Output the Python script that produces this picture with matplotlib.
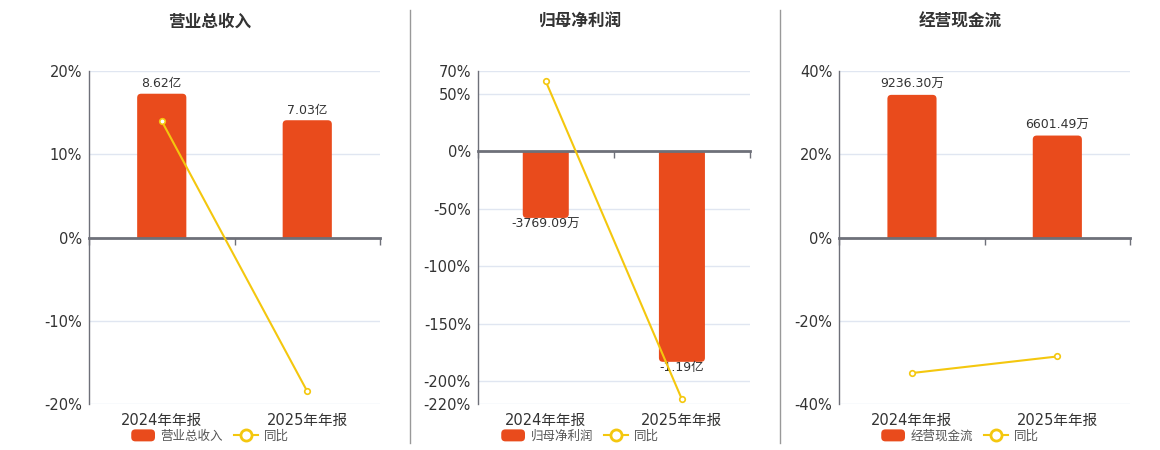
import numpy as np
import matplotlib
matplotlib.use("Agg")
from matplotlib import pyplot as plt
from matplotlib.patches import FancyBboxPatch, Rectangle, Patch
from matplotlib.lines import Line2D
from matplotlib.legend_handler import HandlerPatch

####################################################

# data

periods = ["2024年年报", "2025年年报"]

titles = ["营业总收入", "归母净利润", "经营现金流"]

revenue = [8.62, 7.03]            # 亿
revenue_labels = ["8.62亿", "7.03亿"]
revenue_yoy = [13.96, -18.45]     # %

profit = [-3769.09, -11900.0]     # 万
profit_labels = ["-3769.09万", "-1.19亿"]
profit_yoy = [60.8, -215.7]

cashflow = [9236.30, 6601.49]     # 万
cashflow_labels = ["9236.30万", "6601.49万"]
cashflow_yoy = [-32.5, -28.53]

pct_ticks = [[-20, -10, 0, 10, 20],
             [-220, -200, -150, -100, -50, 0, 50, 70],
             [-40, -20, 0, 20, 40]]

# hidden scale for the bars (keeps 0 aligned with the % axis)
bar_lims = [(-10, 10), (-14300, 4550), (-10800, 10800)]

####################################################

W, H = 1160, 450
BAR_C = "#E94B1C"
LINE_C = "#F4C70E"
GRID_C = "#E0E6F1"
AXIS_C = "#6E7079"
TXT_C = "#333333"

plt.rcParams['font.family'] = ['DejaVu Sans', 'Noto Sans CJK SC']

fig = plt.figure(figsize=(W / 100, H / 100), dpi=100)

# axes boxes in pixels: left, right ; top/bottom shared
boxes = [(89, 380), (477.7, 750), (839.3, 1130)]
top_px, bot_px = 70.7, 404.3
centers = [210, 580, 960]

bars_all = [revenue, profit, cashflow]
labels_all = [revenue_labels, profit_labels, cashflow_labels]
yoy_all = [revenue_yoy, profit_yoy, cashflow_yoy]

x = np.arange(len(periods))


def round_patch(legend, orig_handle, xdescent, ydescent, width, height, fontsize):
    return FancyBboxPatch((-xdescent, -ydescent), width, height,
                          boxstyle="round,pad=0,rounding_size=3")


for i in range(3):
    l, r = boxes[i]
    rect = [l / W, 1 - bot_px / H, (r - l) / W, (bot_px - top_px) / H]
    ax = fig.add_axes(rect)
    axp = ax.twinx()

    ax.set_xlim(-0.5, 1.5)
    ax.set_ylim(*bar_lims[i])
    axp.set_ylim(pct_ticks[i][0], pct_ticks[i][-1])
    ax.patch.set_visible(False)

    # grid lines drawn behind the bars, positioned by the % axis
    ax.hlines(pct_ticks[i], -0.5, 1.5, colors=GRID_C, lw=1, zorder=0.5,
              transform=axp.transData)

    # bars, then round the far corners
    vals = bars_all[i]
    bc = ax.bar(x, vals, width=0.338, color=BAR_C, zorder=2)
    w_px = r - l
    h_px = bot_px - top_px
    dxp = 2.0 / w_px
    dyp = (bar_lims[i][1] - bar_lims[i][0]) / h_px
    rad = 4
    big = bar_lims[i][1] - bar_lims[i][0]
    for b in bc:
        bx, by, bw, bh = b.get_x(), b.get_y(), b.get_width(), b.get_height()
        b.remove()
        ext = 2 * rad * dyp
        if bh >= 0:
            y0, hh = by - ext, bh + ext
            clip = Rectangle((bx - 1, by), bw + 2, big, transform=ax.transData)
        else:
            y0, hh = by + bh, -bh + ext
            clip = Rectangle((bx - 1, by - big), bw + 2, big, transform=ax.transData)
        fb = FancyBboxPatch((bx, y0), bw, hh,
                            boxstyle="round,pad=0,rounding_size=%f" % (rad * dxp),
                            mutation_aspect=dyp / dxp,
                            fc=BAR_C, ec="none", zorder=2)
        ax.add_patch(fb)
        fb.set_clip_path(clip)

    # bar value labels
    for xi, v, t in zip(x, vals, labels_all[i]):
        off = 10 if v > 0 else -6
        ax.annotate(t, (xi, v), xytext=(0, off), textcoords="offset pixels",
                    ha="center", va="center", fontsize=9, color=TXT_C, zorder=3)

    # zero axis line with category boundary ticks
    for s in ["top", "right", "left"]:
        ax.spines[s].set_visible(False)
    ax.spines["bottom"].set_position(("data", 0))
    ax.spines["bottom"].set_color(AXIS_C)
    ax.spines["bottom"].set_linewidth(2)
    ax.spines["bottom"].set_zorder(2.5)
    ax.set_xticks([-0.5, 0.5, 1.5])
    ax.tick_params(axis="x", direction="out", length=5, color=AXIS_C,
                   width=1, labelbottom=False)
    ax.set_yticks([])

    for xi, p in zip(x, periods):
        ax.text(xi, -16 / h_px, p, transform=ax.get_xaxis_transform(),
                ha="center", va="center", fontsize=10.5, color=TXT_C)

    # yoy line on % axis
    axp.plot(x, yoy_all[i], color=LINE_C, lw=1.5, marker="o", ms=4,
             mfc="white", mec=LINE_C, mew=1.2, zorder=4, clip_on=False)
    axp.yaxis.tick_left()
    axp.set_yticks(pct_ticks[i])
    axp.set_yticklabels(["%d%%" % t for t in pct_ticks[i]])
    axp.tick_params(axis="y", length=0, pad=5, labelsize=10.5, labelcolor=TXT_C)
    for s in ["top", "right", "bottom"]:
        axp.spines[s].set_visible(False)
    axp.spines["left"].set_color(AXIS_C)
    axp.spines["left"].set_linewidth(1)

    # title and legend
    fig.text(centers[i] / W, 1 - 22 / H, titles[i], ha="center", va="center",
             fontsize=12, fontweight="bold", color=TXT_C)
    handles = [Patch(fc=BAR_C, ec="none", label=titles[i]),
               Line2D([], [], color=LINE_C, lw=1.5, marker="o", ms=8,
                      mfc="white", mec=LINE_C, mew=2, label="同比")]
    fig.legend(handles=handles, loc="center",
               bbox_to_anchor=(centers[i] / W, 1 - 436 / H), ncol=2,
               frameon=False, fontsize=9, handlelength=1.9, handleheight=1.1,
               handletextpad=0.45, columnspacing=0.9, borderpad=0,
               labelcolor="#555555",
               handler_map={Patch: HandlerPatch(patch_func=round_patch)})

# panel separators
for sx in [410, 780]:
    fig.add_artist(Line2D([sx / W, sx / W], [1 - 10 / H, 1 - 443 / H],
                          color="#999999", lw=1))

fig.savefig("out.png", dpi=100)
